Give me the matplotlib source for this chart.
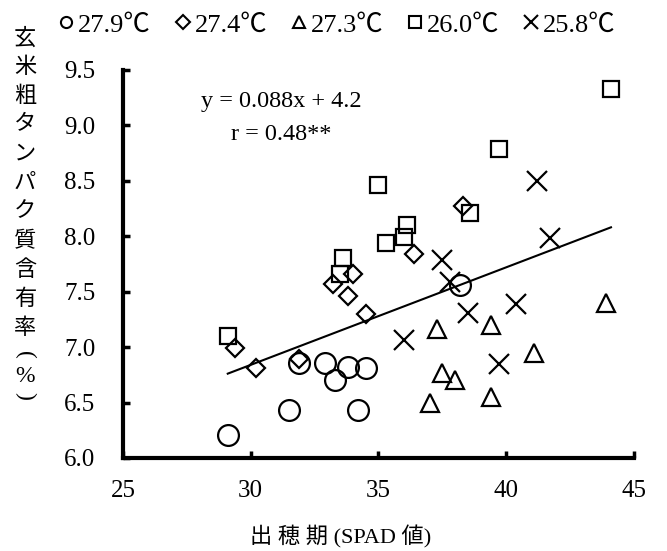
import numpy as np
import matplotlib.pyplot as plt
from matplotlib.lines import Line2D

plt.rcParams['font.family'] = ['Liberation Serif', 'Noto Sans CJK JP']

# Data (SPAD value at heading, brown rice crude protein %)
c279_x = [29.1, 31.5, 31.9, 32.9, 33.3, 33.8, 34.5, 34.2, 38.2]
c279_y = [6.21, 6.43, 6.86, 6.86, 6.70, 6.82, 6.81, 6.43, 7.56]
c274_x = [29.4, 30.2, 31.9, 34.5, 33.8, 33.2, 34.0, 36.4, 38.3]
c274_y = [6.99, 6.81, 6.89, 7.30, 7.46, 7.57, 7.66, 7.84, 8.27]
c273_x = [43.9, 37.3, 39.4, 41.1, 37.5, 38.0, 37.0, 39.4]
c273_y = [7.40, 7.16, 7.20, 6.95, 6.77, 6.70, 6.50, 6.55]
c260_x = [29.1, 33.5, 33.6, 35.0, 35.3, 36.1, 36.0, 38.6, 39.7, 44.1]
c260_y = [7.10, 7.66, 7.80, 8.46, 7.94, 8.10, 7.99, 8.21, 8.79, 9.33]
c258_x = [41.2, 41.7, 37.5, 37.8, 38.5, 40.4, 36.0, 39.7]
c258_y = [8.50, 7.98, 7.79, 7.59, 7.31, 7.39, 7.06, 6.85]

labels = ['27.9℃', '27.4℃', '27.3℃', '26.0℃', '25.8℃']
slope, intercept = 0.088, 4.2
eq_text = 'y = 0.088x + 4.2\nr = 0.48**'
xlabel = '出 穂 期 (SPAD 値)'
ylabel_chars = list('玄米粗タンパク質含有率') + ['(', '%', ')']

fig = plt.figure(figsize=(6.67, 5.51), dpi=100)
ax = fig.add_axes([0.1844, 0.1688, 0.7661, 0.7042])

lw = 1.6
ax.plot(c279_x, c279_y, 'o', ms=15, mfc='none', mec='k', mew=lw, clip_on=False)
ax.plot(c274_x, c274_y, 'D', ms=9, mfc='none', mec='k', mew=lw, clip_on=False)
ax.plot(c273_x, c273_y, '^', ms=12.5, mfc='none', mec='k', mew=lw, clip_on=False)
ax.plot(c260_x, c260_y, 's', ms=11.5, mfc='none', mec='k', mew=lw, clip_on=False)
ax.plot(c258_x, c258_y, 'x', ms=14, mec='k', mew=lw, clip_on=False)

# regression line over the data range
all_x = np.concatenate([c279_x, c274_x, c273_x, c260_x, c258_x])
xs = np.array([all_x.min(), all_x.max()])
ax.plot(xs, slope * xs + intercept, color='k', lw=1.5)

ax.text(0.31, 0.945, eq_text, transform=ax.transAxes, ha='center', va='top',
        fontsize=17.5, linespacing=1.7)

ax.set_xlim(25, 45)
ax.set_ylim(6.0, 9.5)
ax.set_xticks([25, 30, 35, 40, 45])
ax.set_yticks(np.arange(6.0, 9.51, 0.5))
ax.set_yticklabels([f'{v:.1f}' for v in np.arange(6.0, 9.51, 0.5)])
ax.spines['top'].set_visible(False)
ax.spines['right'].set_visible(False)
for s in ['left', 'bottom']:
    ax.spines[s].set_linewidth(3)
ax.tick_params(direction='in', length=5, width=2.5, labelsize=18)
ax.tick_params(axis='y', pad=20)
ax.tick_params(axis='x', pad=16)

ax.set_xlabel(xlabel, fontsize=16)
ax.xaxis.label.set_va('center')
ax.xaxis.set_label_coords(0.425, -0.203)

# vertical (tategaki) y label, one character per line
y0 = 1 - 39 / 551
step = 29 / 551
for i, ch in enumerate(ylabel_chars[:11]):
    fig.text(25 / 667, y0 - i * step, ch, ha='center', va='center', fontsize=16)
fig.text(25 / 667, 1 - 355 / 551, '(', ha='center', va='center', fontsize=17, rotation=-90)
fig.text(25 / 667, 1 - 376 / 551, '%', ha='center', va='center', fontsize=17)
fig.text(25 / 667, 1 - 396 / 551, ')', ha='center', va='center', fontsize=17, rotation=-90)

handles = [
    Line2D([], [], ls='none', marker='o', ms=8, mfc='none', mec='k', mew=1.5),
    Line2D([], [], ls='none', marker='D', ms=7, mfc='none', mec='k', mew=1.5),
    Line2D([], [], ls='none', marker='^', ms=9, mfc='none', mec='k', mew=1.5),
    Line2D([], [], ls='none', marker='s', ms=8, mfc='none', mec='k', mew=1.5),
    Line2D([], [], ls='none', marker='x', ms=10, mec='k', mew=1.5),
]
fig.legend(handles, labels, loc='upper left', bbox_to_anchor=(0.06, 1.01), ncol=5,
           frameon=False, fontsize=19, handlelength=0.6, handletextpad=0.15,
           columnspacing=0.9, borderpad=0.2)

fig.savefig('out.png', dpi=100)
